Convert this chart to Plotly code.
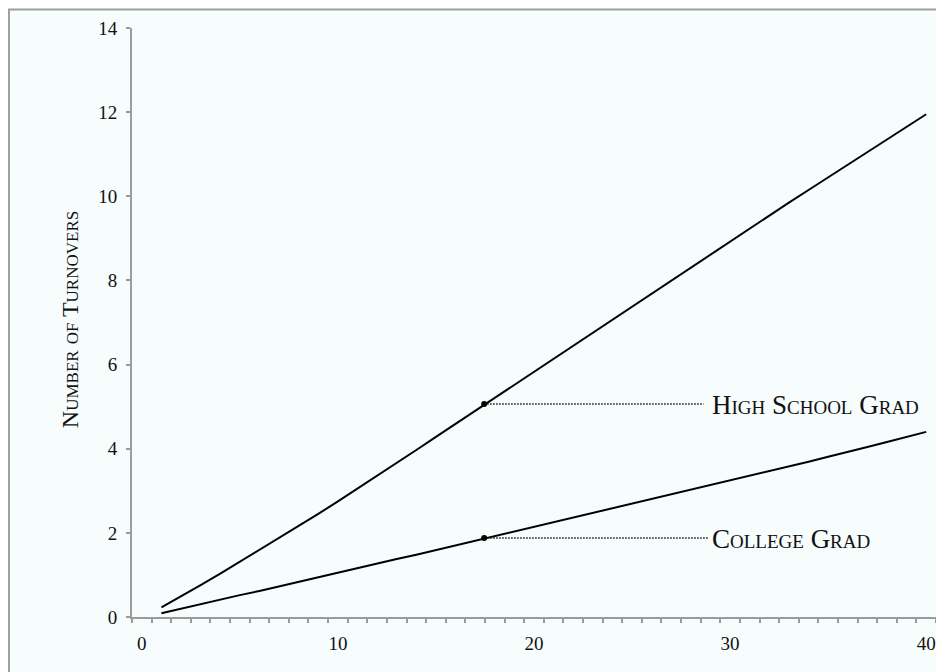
import plotly.graph_objects as go

# ---- data ----
x_values = list(range(1, 41))
high_school = [0.23, 0.49, 0.76, 1.03, 1.31, 1.59, 1.87, 2.16, 2.45, 2.75,
               3.05, 3.35, 3.66, 3.97, 4.28, 4.59, 4.91, 5.22, 5.53, 5.84,
               6.15, 6.46, 6.77, 7.08, 7.39, 7.70, 8.01, 8.32, 8.63, 8.94,
               9.24, 9.55, 9.85, 10.15, 10.45, 10.75, 11.05, 11.35, 11.65, 11.95]
college = [0.09, 0.20, 0.30, 0.41, 0.52, 0.62, 0.73, 0.84, 0.94, 1.05,
           1.16, 1.27, 1.38, 1.48, 1.59, 1.70, 1.82, 1.93, 2.04, 2.15,
           2.26, 2.37, 2.48, 2.59, 2.70, 2.81, 2.92, 3.03, 3.14, 3.25,
           3.36, 3.47, 3.58, 3.69, 3.81, 3.92, 4.04, 4.16, 4.28, 4.40]
series_names = ["High School Grad", "College Grad"]
marker_x = 17.46
marker_y = [5.06, 1.88]
leader_end_x = [28.65, 28.9]
label_x = 29.0
x_tick_vals = [0, 10, 20, 30, 40]
y_tick_vals = [0, 2, 4, 6, 8, 10, 12, 14]
y_title = "Number of Turnovers"

FONT = "Liberation Serif"
AXIS_GRAY = "#9c9c9c"
BG = "#F7FCFC"

fig = go.Figure()

for ys in (high_school, college):
    fig.add_trace(go.Scatter(x=x_values, y=ys, mode="lines",
                             line=dict(color="black", width=2),
                             hoverinfo="skip", showlegend=False))

for my, ex in zip(marker_y, leader_end_x):
    fig.add_trace(go.Scatter(x=[marker_x, ex], y=[my, my], mode="lines",
                             line=dict(color="#111", width=1.5, dash="1.5px,1.5px"),
                             showlegend=False, hoverinfo="skip"))
    fig.add_trace(go.Scatter(x=[marker_x], y=[my], mode="markers",
                             marker=dict(color="black", size=6),
                             showlegend=False, hoverinfo="skip"))

for name, my in zip(series_names, marker_y):
    fig.add_annotation(x=label_x, y=my, xref="x", yref="y", text=name,
                       showarrow=False, xanchor="left", yanchor="middle",
                       yshift=-1,
                       font=dict(family=FONT, size=27, color="#111",
                                 variant="small-caps"))

fig.add_annotation(x=-0.0771, y=0.504, xref="paper", yref="paper",
                   text=y_title, textangle=-90, showarrow=False,
                   xanchor="center", yanchor="middle",
                   font=dict(family=FONT, size=24, color="#111",
                             variant="small-caps"))

# outer frame
fig.add_shape(type="rect", xref="paper", yref="paper",
              x0=-0.1530, y0=-0.12, x1=1.03, y1=1.0315,
              line=dict(color="#a0a0a0", width=2), fillcolor="rgba(0,0,0,0)",
              layer="below")

fig.update_layout(
    width=936, height=664,
    margin=dict(l=124, r=8, t=20, b=55),
    paper_bgcolor=BG, plot_bgcolor=BG,
    font=dict(family=FONT, size=19, color="#111"),
    showlegend=False,
    xaxis=dict(range=[-0.5, 40.5], tickvals=x_tick_vals,
               ticks="", showgrid=False, zeroline=False,
               showline=True, linecolor=AXIS_GRAY, linewidth=2,
               ticklabelstandoff=8,
               tickfont=dict(family=FONT, size=19, color="#111"),
               minor=dict(ticks="outside", tick0=-0.5, dtick=1,
                          ticklen=4, tickcolor=AXIS_GRAY, tickwidth=1.5,
                          showgrid=False)),
    yaxis=dict(range=[0, 14], tickvals=y_tick_vals,
               ticks="outside", ticklen=4, tickcolor=AXIS_GRAY, tickwidth=1.5,
               showgrid=False, zeroline=False,
               showline=True, linecolor=AXIS_GRAY, linewidth=2,
               ticklabelstandoff=5,
               tickfont=dict(family=FONT, size=19, color="#111")),
)

fig.write_html("out.html")
